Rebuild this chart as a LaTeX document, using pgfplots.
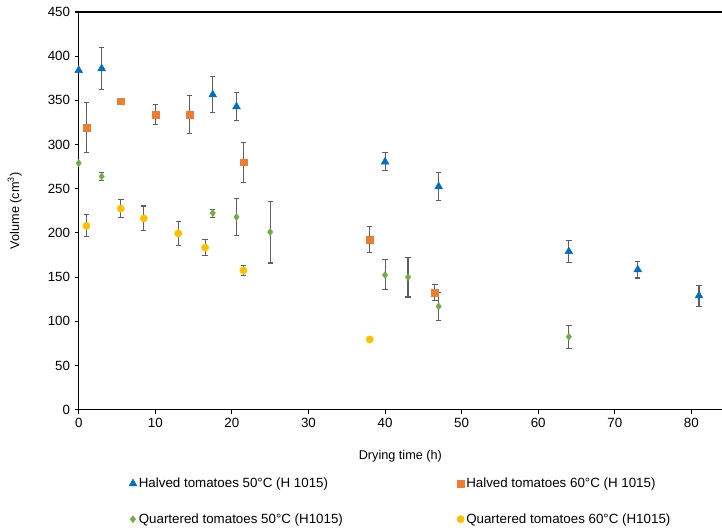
\documentclass[border=0pt]{standalone}
\usepackage{fontspec}
\setmainfont{Liberation Sans}
\usepackage{pgfplots}
\pgfplotsset{compat=1.18}

\definecolor{cblue}{HTML}{0070C0}
\definecolor{corange}{HTML}{ED7D31}
\definecolor{cgreen}{HTML}{70AD47}
\definecolor{cyellow}{HTML}{FFC000}
\definecolor{cbar}{HTML}{5F5F5F}

\pgfplotsset{
  blue tri/.style={only marks, mark=triangle*, mark size=3.3pt,
    mark options={fill=cblue, draw=cblue}},
  orange sq/.style={only marks, mark=square*, mark size=2.6pt,
    mark options={fill=corange, draw=corange}},
  green dia/.style={only marks, mark=diamond*, mark size=2.6pt,
    mark options={fill=cgreen, draw=cgreen}},
  yellow dot/.style={only marks, mark=*, mark size=2.7pt,
    mark options={fill=cyellow, draw=cyellow}},
}

\begin{document}
\begin{tikzpicture}
\begin{axis}[
    name=ax,
    scale only axis,
    width=482pt, height=298pt,
    xmin=0, xmax=84,
    ymin=0, ymax=450,
    xtick={0,10,...,80},
    ytick={0,50,...,450},
    axis x line=box,
    axis y line*=left,
    xtick pos=bottom,
    axis line style={black, line width=0.9pt},
    tick align=outside,
    major tick length=3pt,
    tick style={black, line width=0.8pt},
    ticklabel style={font=\fontsize{10}{12}\selectfont},
    /pgf/number format/assume math mode=true,
    xlabel={Drying time (h)},
    ylabel={Volume (cm\textsuperscript{3})},
    label style={font=\fontsize{9.5}{11}\selectfont},
    xlabel style={at={(axis description cs:0.5,-0.118)}, anchor=center},
    ylabel style={at={(axis description cs:-0.0995,0.5)}, anchor=center},
    clip=false,
    error bars/y dir=both,
    error bars/y explicit,
    error bars/error bar style={cbar, line width=0.8pt},
    error bars/error mark options={cbar, line width=0.8pt, rotate=90, mark size=2pt},
    legend style={at={(axis description cs:0.078,-0.167)}, anchor=north west,
        draw=none, inner sep=0pt, nodes={inner xsep=1.5pt, inner ysep=1pt},
        font=\fontsize{10}{12}\selectfont,
        /tikz/every even column/.append style={column sep=84pt},
        row sep=16pt},
    legend columns=2,
    legend cell align=left,
    legend image code/.code={\draw[#1] plot coordinates {(0pt,0pt)};},
]
\addplot+[blue tri] coordinates {
    (3,386) +- (0,24)
    (17.5,356.5) +- (0,20)
    (20.6,343) +- (0,15.5)
    (40,280.5) +- (0,10)
    (47,252.5) +- (0,16)
    (64,179) +- (0,12)
    (73,158.5) +- (0,9.5)
    (81,129) +- (0,12)
};
\addlegendentry{Halved tomatoes 50°C (H 1015)}
\addplot+[orange sq] coordinates {
    (1,319.5) +- (0,28)
    (10,334) +- (0,11.5)
    (14.5,334) +- (0,22)
    (21.5,280) +- (0,22.5)
    (38,192.5) +- (0,14.5)
    (46.5,132.5) +- (0,9)
};
\addlegendentry{Halved tomatoes 60°C (H 1015)}
\addplot+[green dia] coordinates {
    (3,264) +- (0,4.5)
    (17.5,222.5) +- (0,4.5)
    (20.6,218) +- (0,21)
    (25,201) +- (0,35)
    (40,152.5) +- (0,17)
    (43,150) +- (0,22.5)
    (47,117) +- (0,16)
    (64,82.5) +- (0,13)
};
\addlegendentry{Quartered tomatoes 50°C (H1015)}
\addplot+[yellow dot] coordinates {
    (1,208) +- (0,12.5)
    (5.5,227.5) +- (0,10.5)
    (8.5,216.5) +- (0,14)
    (13,199.5) +- (0,13.5)
    (16.5,183.5) +- (0,9.5)
    (21.5,157.5) +- (0,5.5)
};
\addlegendentry{Quartered tomatoes 60°C (H1015)}
% points without error bars
\addplot+[blue tri, forget plot, error bars/y dir=none] coordinates {(0,384)};
\addplot+[orange sq, forget plot, error bars/y dir=none] coordinates {(5.5,349)};
\addplot+[green dia, forget plot, error bars/y dir=none] coordinates {(0,279)};
\addplot+[yellow dot, forget plot, error bars/y dir=none] coordinates {(38,79.5)};
\end{axis}
\pgfresetboundingbox
\path (ax.south west) ++(-59pt,-90pt) coordinate (bl);
\path (ax.north east) ++(0pt,9pt) coordinate (tr);
\path[use as bounding box] (bl) rectangle (tr);
\end{tikzpicture}
\end{document}
